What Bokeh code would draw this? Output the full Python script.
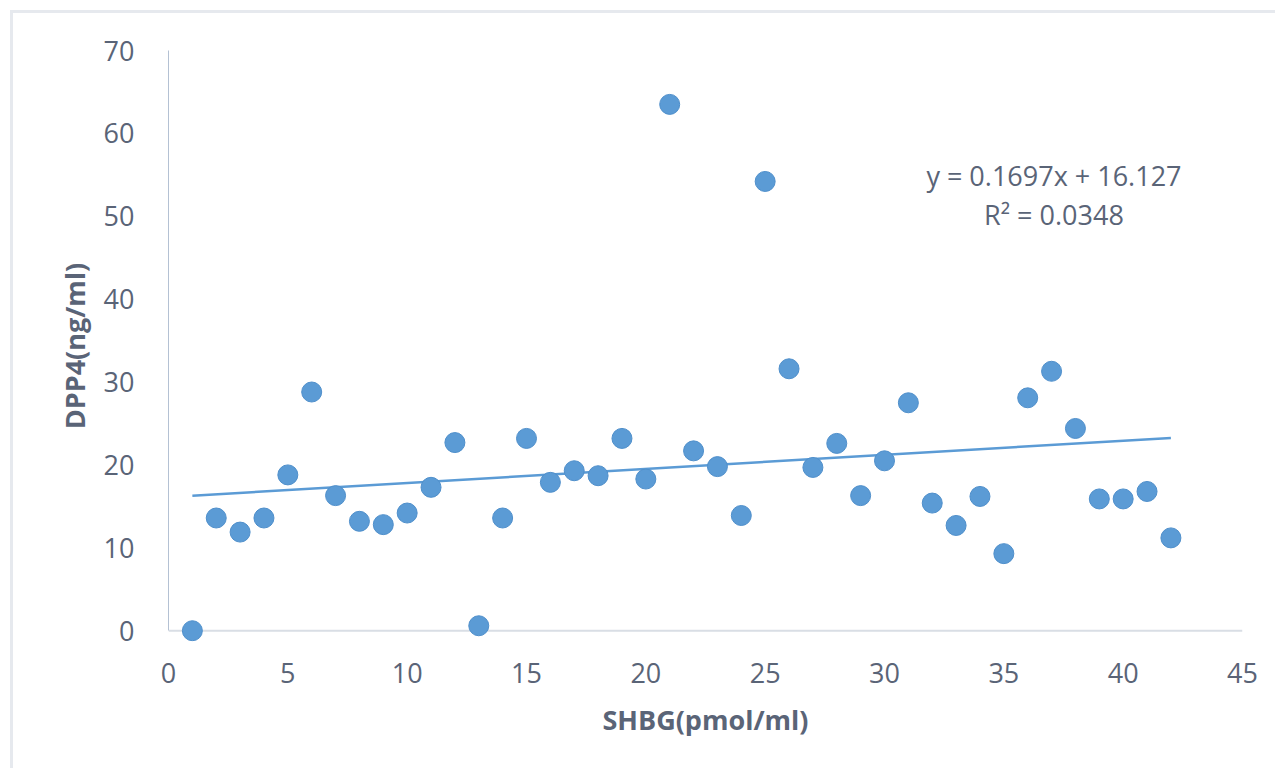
from bokeh.plotting import figure
from bokeh.models import Range1d, FixedTicker, Label, Span
from bokeh.embed import file_html
from bokeh.resources import INLINE

# data
shbg = list(range(1, 43))
dpp4 = [0.0, 13.6, 11.9, 13.6, 18.8, 28.8, 16.3, 13.2, 12.8, 14.2,
        17.3, 22.7, 0.6, 13.6, 23.2, 17.9, 19.3, 18.7, 23.2, 18.3,
        63.5, 21.7, 19.8, 13.9, 54.2, 31.6, 19.7, 22.6, 16.3, 20.5,
        27.5, 15.4, 12.7, 16.2, 9.3, 28.1, 31.3, 24.4, 15.9, 15.9,
        16.8, 11.2]
slope = 0.1697
intercept = 16.127
r2 = 0.0348
x_ticks = [0, 5, 10, 15, 20, 25, 30, 35, 40, 45]
y_ticks = [0, 10, 20, 30, 40, 50, 60, 70]

FONT = "Open Sans"
TXT = "#5a6477"
BLUE = "#5b9bd5"

p = figure(width=1265, height=758, output_backend="svg", toolbar_location=None,
           x_range=Range1d(0, 45), y_range=Range1d(-1.3, 70),
           min_border_left=155, min_border_right=36, min_border_top=37,
           min_border_bottom=130, margin=(10, 0, 0, 10),
           styles={"border-top": "3px solid #e6e9ee", "border-left": "3px solid #e6e9ee"})
p.outline_line_color = None
p.xgrid.grid_line_color = None
p.ygrid.grid_line_color = None
p.background_fill_color = "white"
p.border_fill_color = "white"

for ax in (p.xaxis[0], p.yaxis[0]):
    ax.major_tick_line_color = None
    ax.minor_tick_line_color = None
    ax.major_label_text_font = FONT
    ax.major_label_text_font_size = "27px"
    ax.major_label_text_color = TXT
    ax.axis_label_text_font = FONT
    ax.axis_label_text_font_size = "27px"
    ax.axis_label_text_font_style = "bold"
    ax.axis_label_text_color = TXT

p.xaxis.ticker = FixedTicker(ticks=x_ticks)
p.yaxis.ticker = FixedTicker(ticks=y_ticks)
p.yaxis.bounds = (0, 70)
p.xaxis.axis_line_color = None
p.yaxis.axis_line_color = "#b4c1d3"
p.yaxis.axis_line_width = 1
p.xaxis.major_label_standoff = 15
p.yaxis.major_label_standoff = 28
p.xaxis.axis_label = "SHBG(pmol/ml)"
p.yaxis.axis_label = "DPP4(ng/ml)"
p.xaxis.axis_label_standoff = 15
p.yaxis.axis_label_standoff = 8

# horizontal axis line at zero
p.add_layout(Span(location=0, dimension="width", line_color="#d9dee5",
                  line_width=2, level="underlay"))

# trendline from the fitted equation
xt = [min(shbg), max(shbg)]
yt = [slope * v + intercept for v in xt]
p.line(xt, yt, line_color=BLUE, line_width=2.5)

p.scatter(shbg, dpp4, size=20, fill_color=BLUE, line_color="#4f8fcb", line_width=1)

p.add_layout(Label(x=37.1, y=54.9, text=f"y = {slope}x + {intercept}", text_font=FONT,
                   text_font_size="27px", text_color=TXT, text_align="center",
                   text_baseline="middle"))
p.add_layout(Label(x=37.1, y=50.2, text=f"R² = {r2}", text_font=FONT,
                   text_font_size="27px", text_color=TXT, text_align="center",
                   text_baseline="middle"))

open("out.html", "w").write(file_html(p, INLINE))
